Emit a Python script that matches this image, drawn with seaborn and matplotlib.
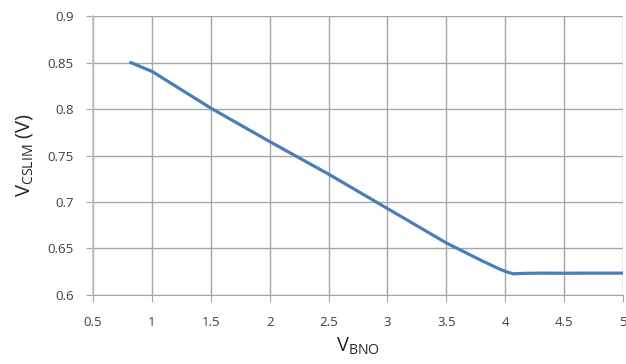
import matplotlib
matplotlib.use("Agg")
import matplotlib.pyplot as plt
import pandas as pd
import seaborn as sns

# values
v_bno = [0.82, 1.0, 1.5, 2.0, 2.5, 3.0, 3.5, 3.8, 3.95, 4.02, 4.07, 4.15, 4.3, 4.5, 4.75, 5.0]
v_cslim = [0.850, 0.8405, 0.801, 0.765, 0.730, 0.693, 0.656, 0.637, 0.628, 0.6245, 0.6228, 0.6232, 0.6235, 0.6234, 0.6235, 0.6235]

x_ticks = [0.5, 1, 1.5, 2, 2.5, 3, 3.5, 4, 4.5, 5]
y_ticks = [0.6, 0.65, 0.7, 0.75, 0.8, 0.85, 0.9]

df = pd.DataFrame({"VBNO": v_bno, "VCSLIM": v_cslim})

sns.set_style("white")
plt.rcParams["font.family"] = ["Open Sans", "DejaVu Sans"]
plt.rcParams["mathtext.fontset"] = "custom"
plt.rcParams["mathtext.rm"] = "Open Sans"

fig = plt.figure(figsize=(6.26, 3.64), dpi=100)
ax = fig.add_axes([0.1486, 0.1896, 0.8464, 0.7664])

sns.lineplot(data=df, x="VBNO", y="VCSLIM", ax=ax, color="#4a7ebb", linewidth=2.3)

ax.set_xlim(0.5, 5)
ax.set_ylim(0.6, 0.9)
ax.set_xticks(x_ticks)
ax.set_yticks(y_ticks)
ax.set_xticklabels([f"{t:g}" for t in x_ticks])
ax.set_yticklabels([f"{t:g}" for t in y_ticks])
ax.grid(True, color="#a6a6a6", linewidth=1.0)
ax.set_axisbelow(True)

for side in ["top", "right"]:
    ax.spines[side].set_visible(False)
ax.spines["left"].set_color("#c0c0c0")
ax.spines["left"].set_linewidth(1.2)
ax.spines["bottom"].set_color("#a6a6a6")

ax.tick_params(axis="both", which="both", direction="out", length=5, width=0.8,
               color="#a6a6a6", labelsize=9.5, labelcolor="#404040")
ax.tick_params(axis="x", bottom=True, pad=10)
ax.tick_params(axis="y", left=True, pad=9)

ax.set_xlabel(r"V$_{\mathrm{BNO}}$", fontsize=14.5, labelpad=5)
ax.set_ylabel(r"V$_{\mathrm{CSLIM}}$ (V)", fontsize=14.5, labelpad=9)

fig.savefig("out.png", dpi=100)
